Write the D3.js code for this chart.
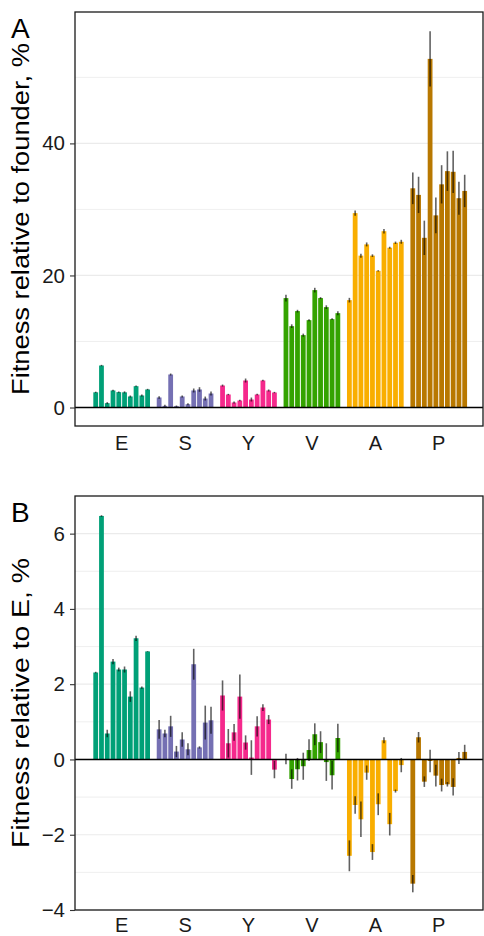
<!DOCTYPE html>
<html><head><meta charset="utf-8">
<script src="https://cdn.jsdelivr.net/npm/d3@7"></script>
<style>body{margin:0;background:#fff}text{font-family:"Liberation Sans",Arial,sans-serif}</style>
</head><body>
<script>
const groups = ["E","S","Y","V","A","P"];
const groupColors = ["#00a077","#7570b3","#f5298c","#34a300","#f9ae00","#b87800"];

// Panel A: fitness relative to founder (%)
const founderE = [2.3, 6.36, 0.66, 2.58, 2.33, 2.3, 1.67, 3.23, 1.82, 2.73];
const founderS = [1.52, 0.25, 5.0, 0.2, 1.67, 0.5, 2.58, 2.73, 1.36, 2.12];
const founderY = [3.33, 1.97, 0.76, 1.06, 4.09, 1.21, 1.97, 4.09, 2.58, 2.27];
const founderV = [16.57, 12.32, 14.6, 10.96, 13.23, 17.78, 16.57, 15.2, 13.38, 14.29];
const founderA = [16.26, 29.44, 23.0, 24.7, 23.0, 20.7, 26.7, 24.2, 24.95, 25.1];
const founderP = [33.2, 32.2, 25.7, 52.8, 29.1, 33.8, 35.8, 35.7, 31.7, 32.8];
const founderErrE = [0.1, 0.1, 0.15, 0.1, 0.1, 0.15, 0.15, 0.1, 0.15, 0.1];
const founderErrS = [0.2, 0.15, 0.15, 0.1, 0.15, 0.15, 0.3, 0.35, 0.3, 0.3];
const founderErrY = [0.15, 0.1, 0.15, 0.1, 0.3, 0.3, 0.1, 0.1, 0.15, 0.1];
const founderErrV = [0.5, 0.28, 0.2, 0.23, 0.15, 0.35, 0.15, 0.28, 0.12, 0.3];
const founderErrA = [0.35, 0.4, 0.3, 0.3, 0.2, 0.1, 0.33, 0.15, 0.18, 0.3];
const founderErrP = [2.4, 2.75, 2.6, 4.2, 2.7, 2.9, 3.0, 3.2, 2.5, 2.45];

// Panel B: fitness relative to E (%)
const relE = [2.31, 6.47, 0.69, 2.6, 2.39, 2.39, 1.67, 3.22, 1.91, 2.87];
const relS = [0.80, 0.69, 0.88, 0.21, 0.53, 0.27, 2.53, 0.32, 0.98, 1.04];
const relY = [1.70, 0.43, 0.72, 1.67, 0.45, 0.05, 0.88, 1.38, 1.06, -0.27];
const relV = [0.01, -0.52, -0.26, -0.18, 0.25, 0.67, 0.46, -0.07, -0.42, 0.57];
const relA = [-2.56, -1.21, -1.59, -0.35, -2.46, -1.19, 0.51, -1.72, -0.84, -0.15];
const relP = [-3.30, 0.59, -0.59, -0.04, -0.43, -0.68, -0.66, -0.73, 0.04, 0.2];
const relErrE = [0.02, 0.02, 0.1, 0.07, 0.05, 0.08, 0.14, 0.07, 0.03, 0.01];
const relErrS = [0.25, 0.1, 0.28, 0.15, 0.19, 0.16, 0.41, 0.03, 0.45, 0.36];
const relErrY = [0.4, 0.38, 0.22, 0.59, 0.19, 0.46, 0.27, 0.09, 0.12, 0.23];
const relErrV = [0.14, 0.26, 0.3, 0.36, 0.29, 0.29, 0.29, 0.5, 0.38, 0.38];
const relErrA = [0.41, 0.23, 0.47, 0.19, 0.21, 0.29, 0.08, 0.3, 0.04, 0.19];
const relErrP = [0.23, 0.14, 0.14, 0.3, 0.29, 0.17, 0.06, 0.23, 0.16, 0.19];

const ticksA = [0, 20, 40];
const gridA = [0, 10, 20, 30, 40, 50];
const ticksB = [-4, -2, 0, 2, 4, 6];
const gridB = [-4, -3, -2, -1, 0, 1, 2, 3, 4, 5, 6];

function buildRows(meansList, errsList) {
  const rows = [];
  meansList.forEach((arr, g) => arr.forEach((v, j) => rows.push({g, slot: g * 11 + j, v, e: errsList[g][j]})));
  return rows;
}
const rowsA = buildRows([founderE, founderS, founderY, founderV, founderA, founderP],
                        [founderErrE, founderErrS, founderErrY, founderErrV, founderErrA, founderErrP]);
const rowsB = buildRows([relE, relS, relY, relV, relA, relP],
                        [relErrE, relErrS, relErrY, relErrV, relErrA, relErrP]);

const W = 484, H = 936;
const svg = d3.select("body").append("svg").attr("width", W).attr("height", H);

const L = 75, R = 483;
const x = d3.scaleBand().domain(d3.range(65)).range([L, R])
  .paddingInner(0.17).paddingOuter(2.97).align(0.535);

function drawPanel(cfg) {
  const {top, bottom, domain, ticks, grid, rows, title, letter, titleLen, labelDy} = cfg;
  const y = d3.scaleLinear().domain(domain).range([bottom, top]);
  const g = svg.append("g");
  const clipId = "clip" + letter;
  svg.append("clipPath").attr("id", clipId).append("rect")
    .attr("x", L).attr("y", top).attr("width", R - L).attr("height", bottom - top);

  g.selectAll(".grid").data(grid).join("line")
    .attr("x1", L).attr("x2", R).attr("y1", d => y(d)).attr("y2", d => y(d))
    .attr("stroke", "#ebebeb").attr("stroke-width", d => ticks.includes(d) ? 1.2 : 0.8);

  const body = g.append("g").attr("clip-path", `url(#${clipId})`);
  body.selectAll("rect.bar").data(rows).join("rect").attr("class", "bar")
    .attr("x", d => x(d.slot)).attr("width", x.bandwidth())
    .attr("y", d => y(Math.max(0, d.v))).attr("height", d => Math.abs(y(d.v) - y(0)))
    .attr("fill", d => groupColors[d.g]);

  body.append("line").attr("x1", L).attr("x2", R).attr("y1", y(0)).attr("y2", y(0))
    .attr("stroke", "#000").attr("stroke-width", 1.4);

  body.selectAll("line.err").data(rows).join("line").attr("class", "err")
    .attr("x1", d => x(d.slot) + x.bandwidth() / 2).attr("x2", d => x(d.slot) + x.bandwidth() / 2)
    .attr("y1", d => y(d.v - d.e)).attr("y2", d => y(d.v + d.e))
    .attr("stroke", "#000").attr("stroke-opacity", 0.62).attr("stroke-width", 1.6);

  g.append("rect").attr("x", L).attr("y", top).attr("width", R - L).attr("height", bottom - top)
    .attr("fill", "none").attr("stroke", "#1a1a1a").attr("stroke-width", 1.3);

  const axis = d3.axisLeft(y).tickValues(ticks).tickSize(5).tickPadding(5)
    .tickFormat(d => d < 0 ? "\u2212" + Math.abs(d) : String(d));
  const ax = g.append("g").attr("transform", `translate(${L},0)`).call(axis);
  ax.select(".domain").remove();
  ax.selectAll(".tick line").attr("stroke", "#333").attr("stroke-width", 1.1);
  ax.selectAll(".tick text").attr("font-size", 20.5).attr("fill", "#1a1a1a")
    .attr("font-family", "Liberation Sans, Arial, sans-serif");

  groups.forEach((name, gi) => {
    const cx = (x(gi * 11) + x(gi * 11 + 9) + x.bandwidth()) / 2;
    g.append("text").attr("x", cx).attr("y", bottom + labelDy).attr("text-anchor", "middle")
      .attr("font-size", 20).attr("fill", "#1a1a1a").text(name);
  });

  const cy = (top + bottom) / 2;
  g.append("text").attr("transform", `translate(29,${cy}) rotate(-90)`)
    .attr("text-anchor", "middle").attr("font-size", 23).attr("fill", "#000")
    .attr("textLength", titleLen).attr("lengthAdjust", "spacingAndGlyphs")
    .text(title);

  g.append("text").attr("x", 11).attr("y", top + 26).attr("font-size", 28).attr("fill", "#000").text(letter);
}

drawPanel({top: 12, bottom: 426, domain: [-2.8, 59.9], ticks: ticksA, grid: gridA, rows: rowsA,
  title: "Fitness relative to founder, %", letter: "A", titleLen: 352, labelDy: 24});
drawPanel({top: 496, bottom: 910, domain: [-4, 7], ticks: ticksB, grid: gridB, rows: rowsB,
  title: "Fitness relative to E, %", letter: "B", titleLen: 290, labelDy: 22});
</script>
</body></html>
